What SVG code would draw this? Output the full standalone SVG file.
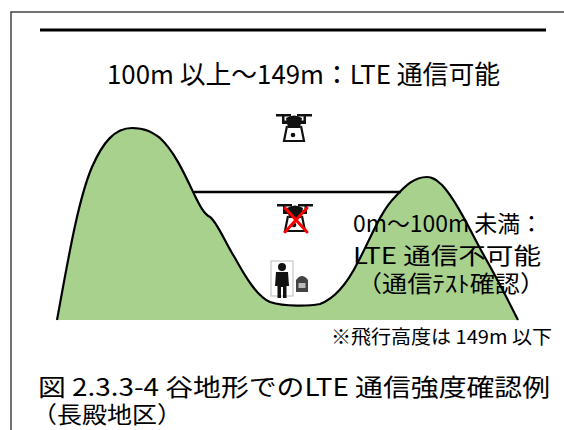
<svg xmlns="http://www.w3.org/2000/svg" width="564" height="430" viewBox="0 0 564 430">
  <style>
    .frame { fill: none; stroke: #444; stroke-width: 1.5; }
    .rule { stroke: #000; stroke-width: 3; }
    .ground { fill: #a9d18e; stroke: none; }
    .ridge { fill: none; stroke: #000; stroke-width: 2.2; stroke-linejoin: round; }
    .level { stroke: #000; stroke-width: 2.5; }
    .txt { font-family: "Noto Sans CJK JP", "Noto Sans", sans-serif; fill: #000; }
    .icon { fill: #111; }
    .iconline { fill: none; stroke: #111; stroke-width: 2.2; }
    .cross { stroke: #ff0000; stroke-width: 3; stroke-linecap: round; }
  </style>
  <defs>
    <g id="drone">
      <!-- propellers -->
      <rect x="-17" y="-10" width="15" height="2.5" class="icon"/>
      <rect x="4" y="-10" width="15" height="2.5" class="icon"/>
      <rect x="-11" y="-9" width="2.5" height="7" class="icon"/>
      <rect x="10.5" y="-9" width="2.5" height="7" class="icon"/>
      <!-- arms and body -->
      <rect x="-11" y="-3.5" width="24" height="3.5" class="icon"/>
      <path d="M-7,-6 Q1,-11 9,-6 L7,4 L-5,4 Z" class="icon"/>
      <!-- landing frame -->
      <path d="M-6,2 L-9,17 L11,17 L8,2" class="iconline"/>
      <circle cx="0" cy="11" r="2.3" class="icon"/>
    </g>
  </defs>

  <!-- page frame and top rule -->
  <path d="M11,430 L11,12 L564,12" class="frame"/>
  <line x1="40" y1="30" x2="546" y2="30" class="rule"/>

  <!-- terrain -->
  <g id="terrain">
    <path class="ground" d="M57,320 C68,260 78,200 92,167 C103,142 115,128 132,128 C145,128 152,132 160,138 C175,152 185,175 195,196 C200,206 204,214 210,217 C217,222 225,242 235,258 C246,278 257,296 270,302 C285,307 310,306 320,304 C336,298 348,282 358,262 C370,240 380,212 395,197 C405,186 414,177 427,177 C434,177 437,181 442,185 C456,200 470,230 482,252 C495,275 508,300 518,320 Z"/>
    <path class="ridge" d="M57,320 C68,260 78,200 92,167 C103,142 115,128 132,128 C145,128 152,132 160,138 C175,152 185,175 195,196 C200,206 204,214 210,217 C217,222 225,242 235,258 C246,278 257,296 270,302 C285,307 310,306 320,304 C336,298 348,282 358,262 C370,240 380,212 395,197 C405,186 414,177 427,177 C434,177 437,181 442,185 C456,200 470,230 482,252 C495,275 508,300 518,320"/>
    <line x1="194" y1="192" x2="401" y2="192" class="level"/>
  </g>

  <!-- drone flying above 100 m -->
  <g id="drone-ok">
    <use href="#drone" x="293" y="124"/>
  </g>

  <!-- drone below 100 m, no signal -->
  <g id="drone-ng">
    <use href="#drone" x="294" y="214"/>
    <line x1="285" y1="208" x2="307" y2="232" class="cross"/>
    <line x1="307" y1="208" x2="285" y2="232" class="cross"/>
  </g>

  <!-- operator with equipment -->
  <g id="operator">
    <rect x="271" y="261" width="22" height="35" fill="none" stroke="#bbb" stroke-width="1"/>
    <circle cx="282" cy="267" r="4" class="icon"/>
    <path d="M276,272 L288,272 L289,286 L286.5,286 L286.5,298 L283,298 L283,287 L281,287 L281,298 L277.5,298 L277.5,286 L275,286 Z" class="icon"/>
    <path d="M296,280 Q302,272 308,280 L308,292 L296,292 Z" fill="#444"/>
    <rect x="298.5" y="283" width="7" height="5" fill="#bbb"/>
  </g>

  <!-- labels -->
  <g id="label-upper">
    <text class="txt" x="107" y="84" font-size="26" textLength="393" lengthAdjust="spacingAndGlyphs">100m 以上～149m：LTE 通信可能</text>
  </g>
  <g id="label-lower">
    <text class="txt" x="353" y="232" font-size="23" textLength="190" lengthAdjust="spacingAndGlyphs">0m～100m 未満：</text>
    <text class="txt" x="353" y="264" font-size="23" textLength="188" lengthAdjust="spacingAndGlyphs">LTE 通信不可能</text>
    <text class="txt" x="357" y="292" font-size="23" textLength="188" lengthAdjust="spacingAndGlyphs">（通信ﾃｽﾄ確認）</text>
  </g>
  <g id="note">
    <text class="txt" x="331" y="344" font-size="19" textLength="221" lengthAdjust="spacingAndGlyphs">※飛行高度は 149m 以下</text>
  </g>
  <g id="caption">
    <text class="txt" x="38" y="396" font-size="24" textLength="512" lengthAdjust="spacingAndGlyphs">図 2.3.3-4 谷地形でのLTE 通信強度確認例</text>
    <text class="txt" x="32" y="423" font-size="23" textLength="150" lengthAdjust="spacingAndGlyphs">（長殿地区）</text>
  </g>
</svg>
